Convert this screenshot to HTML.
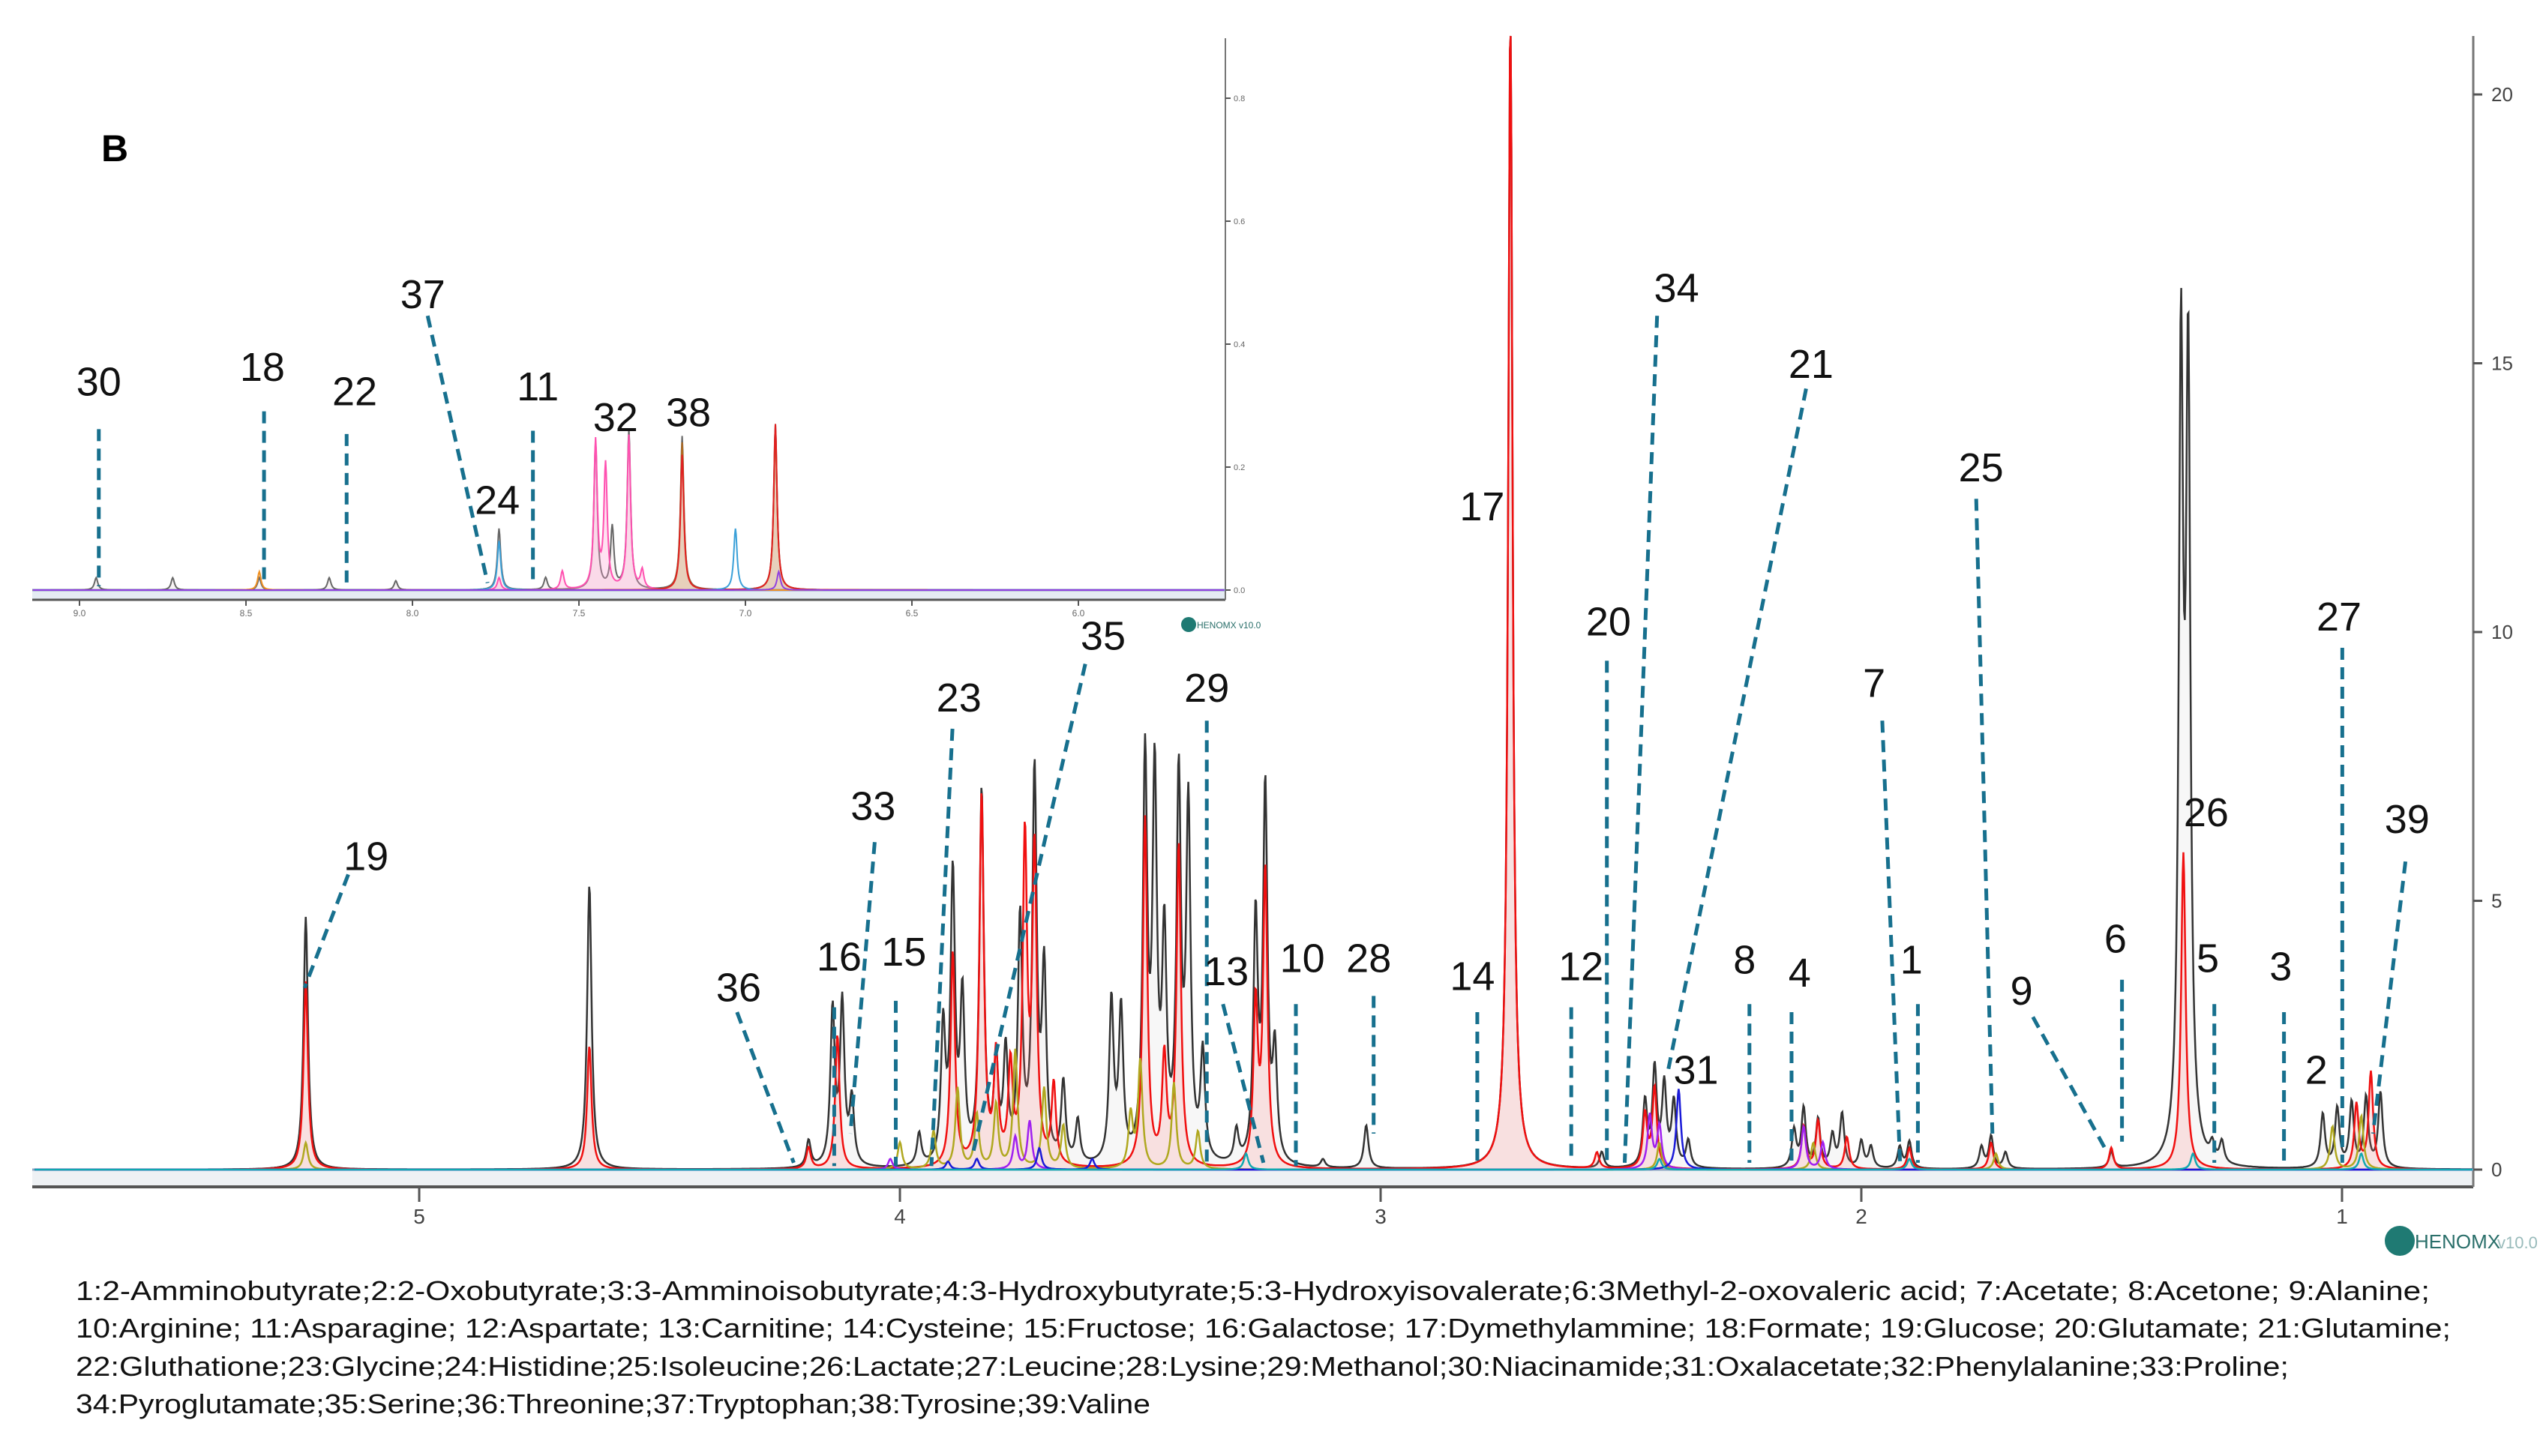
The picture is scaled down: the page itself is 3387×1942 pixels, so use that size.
<!DOCTYPE html>
<html><head><meta charset="utf-8"><style>
html,body{margin:0;padding:0;background:#fff;}
svg{display:block;font-family:"Liberation Sans",sans-serif;}
</style></head><body>
<svg id="fig" width="3387" height="1942" viewBox="0 0 3387 1942" xmlns="http://www.w3.org/2000/svg">
<g id="inset"></g>
<g id="main"></g>
<g id="ann"></g>
<text x="135" y="215" font-size="50" font-weight="bold">B</text>
<g font-size="36" fill="#111">
<text x="101" y="1734" textLength="3139" lengthAdjust="spacingAndGlyphs">1:2-Amminobutyrate;2:2-Oxobutyrate;3:3-Amminoisobutyrate;4:3-Hydroxybutyrate;5:3-Hydroxyisovalerate;6:3Methyl-2-oxovaleric acid; 7:Acetate; 8:Acetone; 9:Alanine;</text>
<text x="101" y="1784" textLength="3167" lengthAdjust="spacingAndGlyphs">10:Arginine; 11:Asparagine; 12:Aspartate; 13:Carnitine; 14:Cysteine; 15:Fructose; 16:Galactose; 17:Dymethylammine; 18:Formate; 19:Glucose; 20:Glutamate; 21:Glutamine;</text>
<text x="101" y="1835" textLength="2951" lengthAdjust="spacingAndGlyphs">22:Gluthatione;23:Glycine;24:Histidine;25:Isoleucine;26:Lactate;27:Leucine;28:Lysine;29:Methanol;30:Niacinamide;31:Oxalacetate;32:Phenylalanine;33:Proline;</text>
<text x="101" y="1885" textLength="1433" lengthAdjust="spacingAndGlyphs">34:Pyroglutamate;35:Serine;36:Threonine;37:Tryptophan;38:Tyrosine;39:Valine</text>
</g>
<g>
<circle cx="3200" cy="1655" r="20" fill="#1f7a73"/>
<text x="3220" y="1665" font-size="26" fill="#2a6f6a">HENOMX</text>
<text x="3330" y="1665" font-size="22" fill="#9bb">v10.0</text>
</g>
<g>
<circle cx="1585" cy="833" r="10" fill="#1f7a73"/>
<text x="1596" y="838" font-size="12" fill="#2a6f6a">HENOMX v10.0</text>
</g>
</svg>
<script>
// ===== main spectrum data: [ppm, height] =====
const mainTicksX = [5,4,3,2,1];
const mainTicksY = [0,5,10,15,20];
const mainBlack = [[5.236,4.7],[4.646,5.3],[4.19,0.5],[4.14,2.9],[4.12,3.0],[4.10,1.2],[3.96,0.6],[3.91,2.5],[3.89,5.3],[3.87,3.0],[3.83,6.9],[3.80,1.8],[3.78,2.0],[3.75,4.5],[3.72,7.2],[3.70,3.5],[3.66,1.5],[3.63,0.8],[3.56,3.0],[3.54,2.8],[3.49,7.4],[3.47,7.0],[3.45,4.0],[3.42,7.0],[3.40,6.5],[3.37,2.0],[3.30,0.6],[3.26,4.5],[3.24,6.9],[3.22,2.0],[3.12,0.15],[3.03,0.8],[2.73,21.5],[2.54,0.3],[2.45,1.2],[2.43,1.8],[2.41,1.5],[2.39,1.2],[2.36,0.5],[2.14,0.7],[2.12,1.1],[2.09,0.9],[2.06,0.6],[2.04,1.0],[2.00,0.5],[1.98,0.4],[1.92,0.4],[1.90,0.5],[1.75,0.4],[1.73,0.6],[1.70,0.3],[1.48,0.3],[1.335,14.7],[1.32,14.4],[1.27,0.3],[1.25,0.4],[1.04,1.0],[1.01,1.1],[0.98,1.2],[0.95,1.3],[0.92,1.4]];
const mainRed = [[5.236,3.5],[4.646,2.3],[4.19,0.4],[4.13,2.5],[3.89,4.0],[3.83,6.9],[3.80,2.0],[3.77,1.8],[3.74,6.0],[3.72,5.8],[3.68,1.5],[3.49,6.5],[3.45,2.0],[3.42,6.0],[3.26,3.0],[3.24,5.5],[2.73,21.5],[2.55,0.3],[2.45,1.0],[2.43,1.5],[2.12,0.8],[2.09,0.9],[2.03,0.6],[1.90,0.4],[1.73,0.5],[1.48,0.4],[1.33,5.9],[0.97,1.2],[0.94,1.8]];
const mainOlive = [[5.236,0.5],[4.0,0.5],[3.93,0.7],[3.88,1.5],[3.84,1.0],[3.80,1.2],[3.76,2.2],[3.70,1.5],[3.66,0.8],[3.52,1.0],[3.50,2.0],[3.43,1.6],[3.38,0.7],[2.42,0.5],[2.10,0.5],[1.72,0.3],[1.02,0.8],[0.96,1.0]];
const mainPurple = [[4.02,0.2],[3.76,0.6],[3.73,0.9],[2.44,1.0],[2.42,0.8],[2.12,0.8],[2.08,0.5]];
const mainBlue = [[3.90,0.15],[3.84,0.2],[3.71,0.4],[3.60,0.2],[2.38,1.5]];
const mainTeal = [[3.28,0.3],[2.42,0.2],[1.90,0.2],[1.31,0.3],[0.96,0.3]];
// ===== inset data =====
const insetTicksX = [9.0,8.5,8.0,7.5,7.0,6.5,6.0];
const insetTicksY = [0.0,0.2,0.4,0.6,0.8];
const insetGray = [[8.95,0.02],[8.72,0.02],[8.46,0.02],[8.25,0.02],[8.05,0.015],[7.74,0.1],[7.6,0.02],[7.45,0.24],[7.40,0.1],[7.35,0.26],[7.19,0.25],[6.91,0.27]];
const insetPink = [[7.74,0.02],[7.55,0.03],[7.45,0.24],[7.42,0.2],[7.35,0.25],[7.31,0.03]];
const insetBrown = [[7.19,0.24],[6.91,0.26]];
const insetRed = [[7.19,0.22],[6.91,0.27]];
const insetBlue = [[7.74,0.08],[7.03,0.1]];
const insetOrange = [[8.46,0.03]];
const insetPurple = [[6.9,0.03]];

const NS="http://www.w3.org/2000/svg";
function mk(tag,attrs,parent){const e=document.createElementNS(NS,tag);for(const k in attrs)e.setAttribute(k,attrs[k]);parent.appendChild(e);return e;}
function lor(peaks,p,g){let s=0;for(const [c,h] of peaks){const d=(p-c)/g;s+=h/(1+d*d);}return s;}

const mx = p => 3123 + (1-p)*641;
const my = v => Math.max(48, 1560 - v*71.7);
const mainG=document.getElementById('main');
mk('rect',{x:43,y:1560,width:3255,height:23,fill:'#eef1f4'},mainG);
mk('line',{x1:43,y1:1583,x2:3298,y2:1583,stroke:'#555','stroke-width':4},mainG);
mk('line',{x1:3298,y1:48,x2:3298,y2:1583,stroke:'#777','stroke-width':3},mainG);
mainTicksX.forEach(t=>{
  const l=mk('line',{x1:mx(t),y1:1583,x2:mx(t),y2:1603,stroke:'#555','stroke-width':3},mainG);
  
  
  const tx=mk('text',{x:mx(t),y:1632,'font-size':28,'text-anchor':'middle',fill:'#444'},mainG);
  tx.textContent=t;
  
  
});
mainTicksY.forEach(t=>{
  mk('line',{x1:3298,y1:my(t),x2:3310,y2:my(t),stroke:'#555','stroke-width':3},mainG);
  const tx=mk('text',{x:3322,y:my(t)+9,'font-size':26,fill:'#444'},mainG);
  tx.textContent=t;
  
  
});
mk('line',{x1:43,y1:1560,x2:3298,y2:1560,stroke:'#8aa4c0','stroke-width':3},mainG);
function drawMain(peaks,color,fill,name){
  const pts=[];
  for(let p=5.80;p>=0.727;p-=0.0015){pts.push([mx(p),my(lor(peaks,p,0.0055))]);}
  const d='M'+pts.map(q=>q[0].toFixed(1)+','+q[1].toFixed(1)).join('L');
  if(fill){const f=mk('path',{d:d+'L'+pts[pts.length-1][0]+',1560L'+pts[0][0]+',1560Z',fill:fill,stroke:'none'},mainG);
    
    }
  const e=mk('path',{d:d,fill:'none',stroke:color,'stroke-width':2.5},mainG);
  
  
}
drawMain(mainBlack,'#333','rgba(200,200,200,0.15)','spectrum-total');
drawMain(mainRed,'#f01010','rgba(255,120,120,0.18)','fit-red');
drawMain(mainOlive,'#b0a820',null,'fit-olive');
drawMain(mainPurple,'#a020f0',null,'fit-purple');
drawMain(mainBlue,'#1a1ad8',null,'fit-blue');
drawMain(mainTeal,'#10a8b0',null,'fit-teal');

const ix = p => 106 + (9-p)*444;
const iy = v => 787 - v*820;
const insG=document.getElementById('inset');
mk('rect',{x:43,y:787,width:1591,height:13,fill:'#e4ebf3'},insG);
mk('line',{x1:43,y1:800,x2:1634,y2:800,stroke:'#555','stroke-width':3},insG);
mk('line',{x1:1634,y1:51,x2:1634,y2:800,stroke:'#777','stroke-width':2},insG);
insetTicksX.forEach(t=>{
  mk('line',{x1:ix(t),y1:800,x2:ix(t),y2:808,stroke:'#555','stroke-width':2},insG);
  const tx=mk('text',{x:ix(t),y:822,'font-size':12,'text-anchor':'middle',fill:'#666'},insG);
  tx.textContent=t.toFixed(1);
  
  
});
insetTicksY.forEach(t=>{
  mk('line',{x1:1634,y1:iy(t),x2:1641,y2:iy(t),stroke:'#555','stroke-width':2},insG);
  const tx=mk('text',{x:1645,y:iy(t)+4,'font-size':11,fill:'#666'},insG);
  tx.textContent=t.toFixed(1);
  
  
});
mk('line',{x1:43,y1:787,x2:1634,y2:787,stroke:'#7f93b8','stroke-width':3},insG);
function drawInset(peaks,color,fill,name){
  const pts=[];
  for(let p=9.14;p>=5.56;p-=0.002){pts.push([ix(p),iy(lor(peaks,p,0.006))]);}
  const d='M'+pts.map(q=>q[0].toFixed(1)+','+q[1].toFixed(1)).join('L');
  if(fill){const f=mk('path',{d:d+'L'+pts[pts.length-1][0]+',787L'+pts[0][0]+',787Z',fill:fill},insG);
    
    }
  const e=mk('path',{d:d,fill:'none',stroke:color,'stroke-width':2},insG);
  
  
}
drawInset(insetGray,'#666','rgba(220,200,200,0.2)','inset-total');
drawInset(insetPink,'#ff50b0','rgba(255,160,210,0.3)','inset-pink');
drawInset(insetBrown,'#b06a20','rgba(200,140,80,0.35)','inset-brown');
drawInset(insetRed,'#e02020',null,'inset-red');
drawInset(insetBlue,'#3aa0d8',null,'inset-blue');
drawInset(insetOrange,'#f09020',null,'inset-orange');
drawInset(insetPurple,'#9040e0',null,'inset-purple');

const k=2.16;
const ann=[
 ['19',226,528,[[215,540],[188,610]]],['33',539,497,[[540,520],[525,700]]],['23',592,430,[[588,450],[575,720]]],
 ['35',681,392,[[670,410],[600,715]]],['29',745,424,[[745,445],[745,720]]],['36',456,609,[[455,625],[490,718]]],
 ['16',518,590,[[515,622],[515,720]]],['15',558,587,[[553,618],[553,720]]],['13',757,599,[[755,620],[780,718]]],
 ['10',804,591,[[800,620],[800,720]]],['28',845,591,[[848,615],[848,700]]],['14',909,602,[[912,625],[912,718]]],
 ['17',915,312,null],['12',976,596,[[970,622],[970,718]]],['20',993,383,[[992,408],[992,718]]],
 ['34',1035,177,[[1023,195],[1003,718]]],['21',1118,224,[[1115,240],[1030,660]]],['31',1047,660,null],
 ['8',1077,592,[[1080,620],[1080,718]]],['4',1111,600,[[1106,625],[1106,718]]],['7',1157,421,[[1162,445],[1173,718]]],
 ['1',1180,592,[[1184,620],[1184,718]]],['25',1223,288,[[1220,308],[1230,700]]],['9',1248,611,[[1255,628],[1300,710]]],
 ['6',1306,579,[[1310,605],[1310,705]]],['26',1362,501,null],['5',1363,591,[[1367,620],[1367,718]]],
 ['3',1408,596,[[1410,625],[1410,718]]],['2',1430,660,null],['27',1444,380,[[1446,400],[1446,718]]],
 ['39',1486,505,[[1485,532],[1465,700]]],
 ['30',61,235,[[61,265],[61,362]]],['18',162,226,[[163,254],[163,358]]],['22',219,241,[[214,268],[214,362]]],
 ['37',261,181,[[264,195],[301,360]]],['11',332,238,[[329,266],[329,360]]],['24',307,308,null],
 ['32',380,257,null],['38',425,254,null]
];
const annG=document.getElementById('ann');
ann.forEach(a=>{
  if(a[3]){const l=mk('line',{x1:a[3][0][0]*k,y1:a[3][0][1]*k,x2:a[3][1][0]*k,y2:a[3][1][1]*k,stroke:'#17708e','stroke-width':5,'stroke-dasharray':'16 10'},annG);
    
    }
  const t=mk('text',{x:a[1]*k,y:a[2]*k+20,'font-size':54,'text-anchor':'middle',fill:'#111'},annG);
  t.textContent=a[0];
  
  
});
</script>
</body></html>
